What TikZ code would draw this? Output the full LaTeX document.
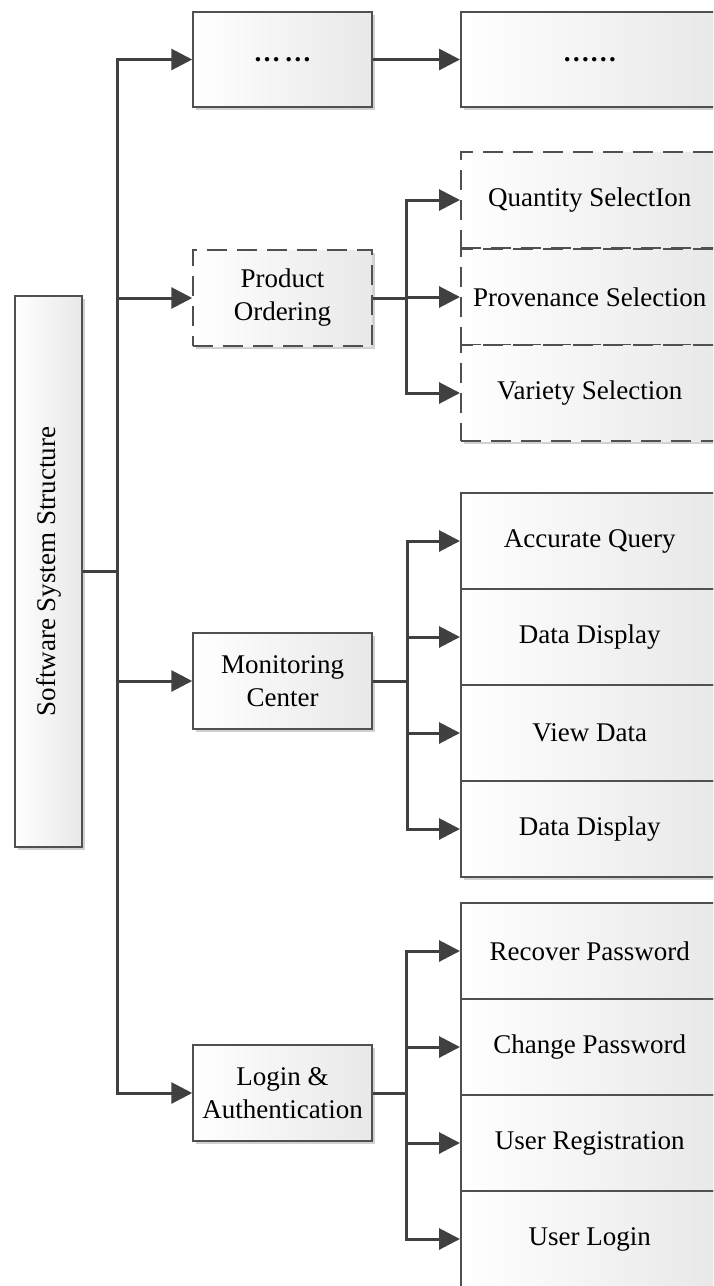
\documentclass[tikz,border=0pt]{standalone}
\usepackage{fontspec}
\setmainfont{Liberation Serif}
\usepackage{graphicx}
\usetikzlibrary{arrows.meta,shadows}

\definecolor{edgec}{HTML}{505050}
\definecolor{linkc}{HTML}{404040}

\tikzset{
  box/.style={draw=edgec, line width=1.5pt, left color=white, right color=black!9,
    drop shadow={shadow xshift=3pt, shadow yshift=-3pt, opacity=0.18, fill=black},
    minimum width=179pt, minimum height=96pt, inner sep=0pt, align=center,
    font=\fontsize{27}{33}\selectfont},
  dbox/.style={box, dash pattern=on 20pt off 10pt},
  leaf/.style={box, minimum width=258pt, anchor=west},
  dleaf/.style={dbox, minimum width=258pt, anchor=west},
  conn/.style={draw=linkc, line width=3pt},
  arr/.style={conn, -{Triangle[length=21pt,width=21pt]}},
}

\begin{document}
\begin{tikzpicture}[x=1pt,y=-1pt]
\useasboundingbox (0,0) rectangle (713,1286);
\clip (0,0) rectangle (713,1286);

% root
\node[box, minimum width=67pt, minimum height=551pt] (root) at (48.5,571.5)
  {\rotatebox{90}{Software System Structure}};

% first level
\node[box, minimum height=95pt] (more) at (282.5,59.5) {\textbf{…\hspace{4pt}…}};
\node[dbox] (prod) at (282.5,298) {Product\\Ordering};
\node[box] (mon) at (282.5,681) {Monitoring\\Center};
\node[box] (login) at (282.5,1093) {Login \&\\Authentication};

% second level
\node[leaf, minimum height=95pt] (more2) at (460,59.5) {\textbf{……}};

\node[dleaf] (q1) at (460,200) {Quantity SelectIon};
\node[dleaf] (q2) at (460,297) {Provenance Selection};
\node[dleaf] (q3) at (460,393) {Variety Selection};

\node[leaf] (m1) at (460,541) {Accurate Query};
\node[leaf] (m2) at (460,637) {Data Display};
\node[leaf] (m3) at (460,733) {View Data};
\node[leaf] (m4) at (460,829) {Data Display};

\node[leaf] (l1) at (460,951) {Recover Password};
\node[leaf] (l2) at (460,1047) {Change Password};
\node[leaf] (l3) at (460,1143) {User Registration};
\node[leaf] (l4) at (460,1239) {User Login};

% trunk
\draw[conn] (root.east) -- ++(35,0) coordinate (j0);
\draw[arr] (j0) -- (j0 |- more.west) -- (more.west);
\draw[arr] (j0) -- (j0 |- login.west) -- (login.west);
\draw[arr] (j0 |- prod.west) -- (prod.west);
\draw[arr] (j0 |- mon.west) -- (mon.west);

% top row
\draw[arr] (more.east) -- (more2.west);

% product ordering branch
\draw[conn] (prod.east) -- ++(34,0) coordinate (jp);
\draw[arr] (jp) -- (jp |- q1.west) -- (q1.west);
\draw[arr] (jp) -- (jp |- q3.west) -- (q3.west);
\draw[arr] (jp |- q2.west) -- (q2.west);

% monitoring branch
\draw[conn] (mon.east) -- ++(35,0) coordinate (jm);
\draw[arr] (jm) -- (jm |- m1.west) -- (m1.west);
\draw[arr] (jm) -- (jm |- m4.west) -- (m4.west);
\draw[arr] (jm |- m2.west) -- (m2.west);
\draw[arr] (jm |- m3.west) -- (m3.west);

% login branch
\draw[conn] (login.east) -- ++(34,0) coordinate (jl);
\draw[arr] (jl) -- (jl |- l1.west) -- (l1.west);
\draw[arr] (jl) -- (jl |- l4.west) -- (l4.west);
\draw[arr] (jl |- l2.west) -- (l2.west);
\draw[arr] (jl |- l3.west) -- (l3.west);
\end{tikzpicture}
\end{document}
